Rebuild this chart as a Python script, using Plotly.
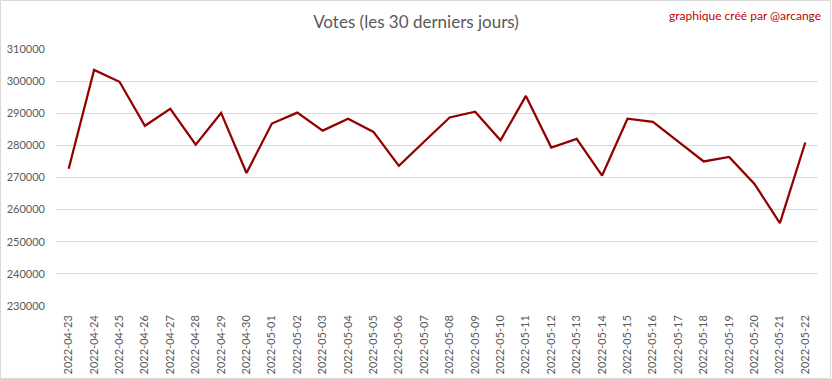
import plotly.graph_objects as go

dates = ["2022-04-23", "2022-04-24", "2022-04-25", "2022-04-26", "2022-04-27", "2022-04-28",
         "2022-04-29", "2022-04-30", "2022-05-01", "2022-05-02", "2022-05-03", "2022-05-04",
         "2022-05-05", "2022-05-06", "2022-05-07", "2022-05-08", "2022-05-09", "2022-05-10",
         "2022-05-11", "2022-05-12", "2022-05-13", "2022-05-14", "2022-05-15", "2022-05-16",
         "2022-05-17", "2022-05-18", "2022-05-19", "2022-05-20", "2022-05-21", "2022-05-22"]
votes = [272700, 303500, 299800, 286100, 291400, 280200,
         290100, 271400, 286800, 290200, 284600, 288300,
         284200, 273600, 281200, 288700, 290500, 281600,
         295400, 279300, 282000, 270600, 288300, 287300,
         281200, 275000, 276400, 268000, 255800, 280900]
y_ticks = [230000, 240000, 250000, 260000, 270000, 280000, 290000, 300000, 310000]

FONT = "Lato, 'Open Sans', sans-serif"
GRAY = "#595959"

fig = go.Figure()
fig.add_trace(go.Scatter(x=dates, y=votes, mode="lines",
                         line=dict(color="#920000", width=2.25),
                         hoverinfo="x+y", showlegend=False))

fig.update_layout(
    width=832, height=379,
    margin=dict(l=56, r=14, t=49, b=73, autoexpand=False),
    paper_bgcolor="white", plot_bgcolor="white",
    font=dict(family=FONT, color=GRAY, size=11),
    title=dict(text="Votes (les 30 derniers jours)", x=0.5, xanchor="center",
               y=1 - 22 / 379, yanchor="middle",
               font=dict(family=FONT, size=17, color=GRAY)),
    xaxis=dict(type="category", range=[-0.5, len(dates) - 0.5], automargin=False,
               tickangle=-90, showgrid=False, showline=False, ticks="",
               tickfont=dict(family=FONT, size=11, color=GRAY),
               ticklabelstandoff=6),
    yaxis=dict(range=[y_ticks[0], y_ticks[-1]], tickvals=y_ticks, automargin=False,
               ticktext=[str(v) for v in y_ticks],
               showgrid=True, gridcolor="#d9d9d9", gridwidth=1,
               zeroline=False, showline=False, ticks="",
               tickfont=dict(family=FONT, size=11, color=GRAY),
               ticklabelstandoff=10),
    annotations=[dict(text="graphique créé par @arcange", xref="paper", yref="paper",
                      x=(823 - 56) / (832 - 70), xanchor="right",
                      y=1 + (49 - 15) / (379 - 49 - 73), yanchor="middle",
                      showarrow=False, font=dict(family=FONT, size=12, color="#c00000"))],
    shapes=[dict(type="rect", xref="paper", yref="paper",
                 x0=-55.5 / 762, x1=1 + 12.5 / 762, y0=-72.5 / 257, y1=1 + 48.5 / 257,
                 line=dict(color="#d9d9d9", width=1), fillcolor="rgba(0,0,0,0)",
                 layer="below")],
)

fig.write_html("out.html", config={"displayModeBar": False},
               post_script="document.body.style.margin='0';document.body.style.overflow='hidden';")
